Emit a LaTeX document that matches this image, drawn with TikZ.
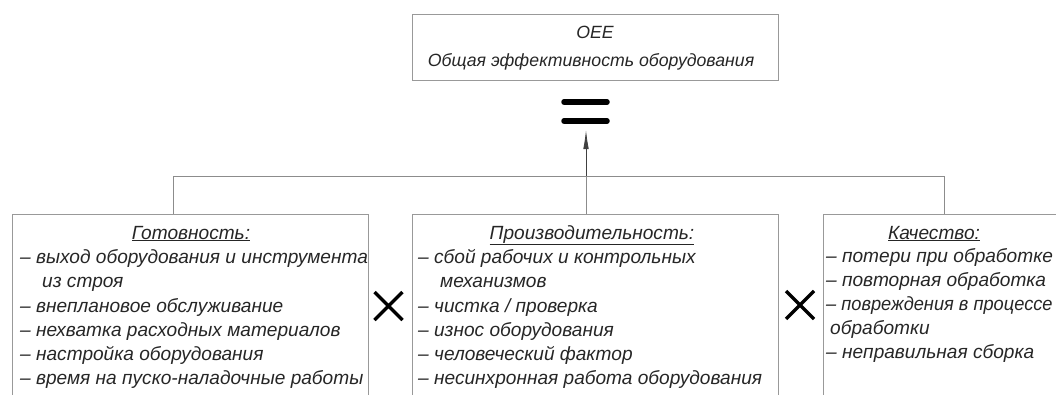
\documentclass[tikz,border=0pt]{standalone}
\usepackage{fontspec}
\usepackage{graphicx}
\setmainfont{Liberation Sans}
\usetikzlibrary{arrows.meta}
\begin{document}
\begin{tikzpicture}[x=1pt,y=-1pt,
  frame/.style={draw=black!40, line width=0.9pt, inner sep=0pt, anchor=north west},
  link/.style={draw=black!45, line width=0.8pt},
  feed/.style={draw=black!75, line width=0.8pt, -{Latex[length=19pt,width=5.5pt]}},
  lst/.style={font=\fontsize{19.1}{24}\selectfont\itshape, inner sep=0pt, anchor=base west, text=black!85},
  hd/.style={font=\fontsize{19.1}{24}\selectfont\itshape, inner sep=0pt, anchor=base, text=black!85},
  headline/.style={font=\fontsize{17.7}{24}\selectfont\itshape, inner sep=0pt, anchor=base, text=black!85},
  bar/.style={line width=5.5pt, line cap=round},
  timesign/.style={line width=3.4pt}]
\useasboundingbox (0,0) rectangle (1056,394);
\clip (0,0) rectangle (1056,394);

% overall result box
\node[frame, minimum width=366pt, minimum height=66pt] (oee) at (412,14) {};
\node[headline] (oeeA) at (595,38.5) {OEE};
\node[headline] (oeeB) at (591,66) {Общая эффективность оборудования};

% equals sign
\draw[bar] (564,102) -- (607,102);
\draw[bar] (564,121) -- (607,121);

% factor boxes (lower edges run off the page)
\node[frame, minimum width=356pt, minimum height=220pt] (ready) at (12,214) {};
\node[frame, minimum width=366pt, minimum height=220pt] (perf) at (412,214) {};
\node[frame, minimum width=242pt, minimum height=220pt] (qual) at (823,214) {};

% bus and connectors
\coordinate (jl) at (173,176);
\coordinate (jm) at (586,176);
\coordinate (jr) at (944,176);
\coordinate (eqfoot) at (586,130);
\draw[link] (jl) -- (jr);
\draw[link] (jl) -- (jl |- ready.north);
\draw[link] (jm) -- (jm |- perf.north);
\draw[link] (jr) -- (jr |- qual.north);
\draw[feed] (jm) -- (eqfoot);

% multiplication signs
\draw[timesign] (374.5,292) -- (402.5,320) (374.5,320) -- (402.5,292);
\draw[timesign] (786,291) -- (814,319) (786,319) -- (814,291);

% availability
\node[hd] (rT) at (191,239) {\underline{Готовность:}};
\node[lst] (r1) at (20,263) {– выход оборудования и инструмента};
\node[lst] (r2) at (42,287) {из строя};
\node[lst] (r3) at (20,312) {– внеплановое обслуживание};
\node[lst] (r4) at (20,336) {– нехватка расходных материалов};
\node[lst] (r5) at (20,360) {– настройка оборудования};
\node[lst] (r6) at (20,384) {– время на пуско-наладочные работы};

% performance
\node[hd] (pT) at (592,239) {\underline{Производительность:}};
\node[lst] (p1) at (418,263) {– сбой рабочих и контрольных};
\node[lst] (p2) at (440,287) {механизмов};
\node[lst] (p3) at (418,312) {– чистка / проверка};
\node[lst] (p4) at (418,336) {– износ оборудования};
\node[lst] (p5) at (418,360) {– человеческий фактор};
\node[lst] (p6) at (418,384) {– несинхронная работа оборудования};

% quality
\node[hd] (qT) at (934,239) {\underline{Качество:}};
\node[lst] (q1) at (826,262) {– потери при обработке};
\node[lst] (q2) at (826,286) {– повторная обработка};
\node[lst] (q3) at (826,310) {\scalebox{0.955}[1]{– повреждения в процессе}};
\node[lst] (q4) at (830,334) {обработки};
\node[lst] (q5) at (826,358) {– неправильная сборка};
\end{tikzpicture}
\end{document}
